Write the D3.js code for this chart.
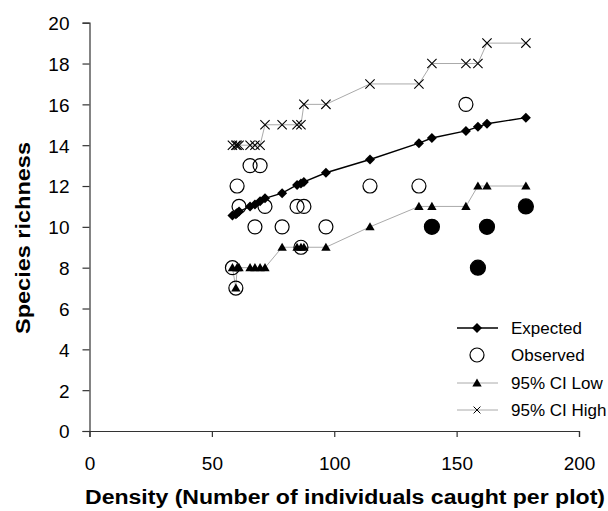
<!DOCTYPE html>
<html>
<head>
<meta charset="utf-8">
<script src="https://cdn.jsdelivr.net/npm/d3@7/dist/d3.min.js"></script>
<style>
  html, body { margin: 0; padding: 0; background: #fff; }
  text { font-family: "Liberation Sans", Arial, sans-serif; fill: #000; }
</style>
</head>
<body>
<svg id="chart" width="608" height="511"></svg>
<script>
// ---- Data ----
const density  = [58.4, 59.8, 60.3, 61.1, 65.6, 67.6, 69.7, 71.7, 78.7, 84.8, 86.4, 87.6, 96.6, 114.6, 134.6, 139.9, 153.8, 158.7, 162.4, 178.3];
const expected = [10.55, 10.62, 10.68, 10.75, 11.0, 11.1, 11.25, 11.4, 11.65, 12.05, 12.12, 12.2, 12.65, 13.3, 14.1, 14.35, 14.7, 14.9, 15.05, 15.35];
const observed = [8, 7, 12, 11, 13, 10, 13, 11, 10, 11, 9, 11, 10, 12, 12, 10, 16, 8, 10, 11];
const ciLow    = [8, 7, 8, 8, 8, 8, 8, 8, 9, 9, 9, 9, 9, 10, 11, 11, 11, 12, 12, 12];
const ciHigh   = [14, 14, 14, 14, 14, 14, 14, 15, 15, 15, 15, 16, 16, 17, 17, 18, 18, 18, 19, 19];
const xTicks = [0, 50, 100, 150, 200];
const yTicks = [0, 2, 4, 6, 8, 10, 12, 14, 16, 18, 20];
const legendLabels = ["Expected", "Observed", "95% CI Low", "95% CI High"];
const xTitle = "Density (Number of individuals caught per plot)";
const yTitle = "Species richness";

const svg = d3.select("#chart");
const x = d3.scaleLinear().domain([0, 200]).range([89.5, 579]);
const y = d3.scaleLinear().domain([0, 20]).range([431, 22.7]);

const axisColor = "#333";

// ---- Axes ----
const xAxis = svg.append("g").attr("transform", "translate(0,431)")
  .call(d3.axisBottom(x).tickValues(xTicks).tickSize(6).tickPadding(20).tickFormat(d3.format("d")));
const yAxis = svg.append("g").attr("transform", "translate(89.5,0)")
  .call(d3.axisLeft(y).tickValues(yTicks).tickSize(7).tickPadding(13).tickFormat(d3.format("d")));
[xAxis, yAxis].forEach(g => {
  g.select(".domain").attr("stroke", axisColor).attr("stroke-width", 1.2);
  g.selectAll(".tick line").attr("stroke", axisColor).attr("stroke-width", 1.2);
  g.selectAll(".tick text").attr("font-size", 19).attr("fill", "#000")
    .style("font-family", "'Liberation Sans', Arial, sans-serif");
});
yAxis.selectAll(".tick text").attr("dy", "0.36em");

// ---- Titles ----
svg.append("text")
  .attr("x", 345).attr("y", 504)
  .attr("text-anchor", "middle")
  .attr("font-size", 19.5).attr("font-weight", "bold")
  .attr("textLength", 520).attr("lengthAdjust", "spacingAndGlyphs")
  .text(xTitle);
svg.append("text")
  .attr("transform", "translate(30,238) rotate(-90)")
  .attr("text-anchor", "middle")
  .attr("font-size", 21).attr("font-weight", "bold")
  .attr("textLength", 192).attr("lengthAdjust", "spacingAndGlyphs")
  .text(yTitle);

const pts = density.map((d, i) => ({ d, e: expected[i], o: observed[i], lo: ciLow[i], hi: ciHigh[i] }));

// ---- Series lines ----
const lineGen = key => d3.line().x(p => x(p.d)).y(p => y(p[key]));
svg.append("path").datum(pts).attr("d", lineGen("hi"))
  .attr("fill", "none").attr("stroke", "#aaa").attr("stroke-width", 1);
svg.append("path").datum(pts).attr("d", lineGen("lo"))
  .attr("fill", "none").attr("stroke", "#aaa").attr("stroke-width", 1);
svg.append("path").datum(pts).attr("d", lineGen("e"))
  .attr("fill", "none").attr("stroke", "#000").attr("stroke-width", 1.4);

// ---- Markers ----
const diamond = d3.symbol().type(d3.symbolSquare).size(50)();
const tri = d3.symbol().type(d3.symbolTriangle).size(38)();
const cross = d3.symbol().type(d3.symbolTimes).size(58)();

// Observed circles (filled when below the lower CI)
svg.append("g").selectAll("circle").data(pts).join("circle")
  .attr("cx", p => x(p.d)).attr("cy", p => y(p.o))
  .attr("r", p => p.o < p.lo ? 7.5 : 7)
  .attr("fill", p => p.o < p.lo ? "#000" : "none")
  .attr("stroke", "#000").attr("stroke-width", 1.2);

svg.append("g").selectAll("path").data(pts).join("path")
  .attr("d", tri)
  .attr("transform", p => `translate(${x(p.d)},${y(p.lo) + 0.8})`)
  .attr("fill", "#000");

svg.append("g").selectAll("path").data(pts).join("path")
  .attr("d", cross)
  .attr("transform", p => `translate(${x(p.d)},${y(p.hi)})`)
  .attr("fill", "none").attr("stroke", "#000").attr("stroke-width", 1.1);

svg.append("g").selectAll("path").data(pts).join("path")
  .attr("d", diamond)
  .attr("transform", p => `translate(${x(p.d)},${y(p.e)}) rotate(45)`)
  .attr("fill", "#000");

// ---- Legend ----
const legY = [328, 355, 383, 410];
const leg = svg.append("g");
legendLabels.forEach((lab, i) => {
  const g = leg.append("g").attr("transform", `translate(0,${legY[i]})`);
  if (i !== 1) {
    g.append("line").attr("x1", 457).attr("x2", 498).attr("y1", 0).attr("y2", 0)
      .attr("stroke", i === 0 ? "#000" : "#aaa").attr("stroke-width", i === 0 ? 1.4 : 1);
  }
  if (i === 0) g.append("path").attr("d", diamond).attr("transform", "translate(477,0) rotate(45)").attr("fill", "#000");
  if (i === 1) g.append("circle").attr("cx", 477).attr("cy", 0).attr("r", 7).attr("fill", "none").attr("stroke", "#000").attr("stroke-width", 1.2);
  if (i === 2) g.append("path").attr("d", tri).attr("transform", "translate(477,0.8)").attr("fill", "#000");
  if (i === 3) g.append("path").attr("d", d3.symbol().type(d3.symbolTimes).size(32)()).attr("transform", "translate(477,0)").attr("fill", "none").attr("stroke", "#000").attr("stroke-width", 1);
  g.append("text").attr("x", 511).attr("y", 0).attr("dy", "0.36em")
    .attr("font-size", 17).text(lab);
});
</script>
</body>
</html>
